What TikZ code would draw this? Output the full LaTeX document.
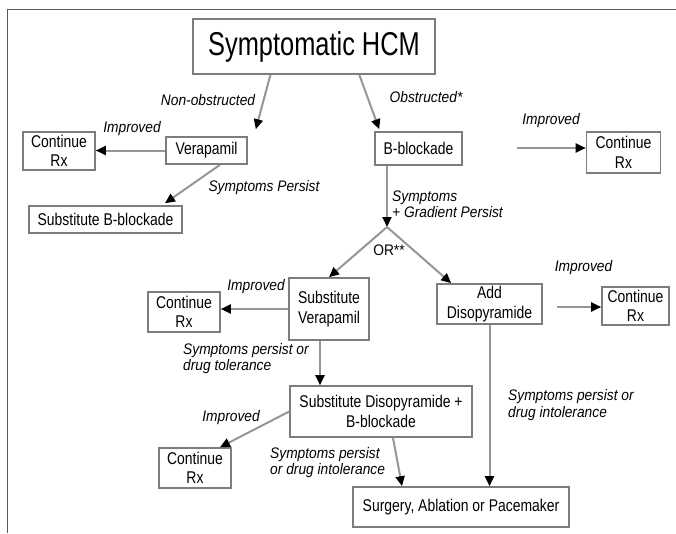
\documentclass[tikz,border=0pt]{standalone}
\usepackage{fontspec}
\setmainfont{Liberation Sans}
\newfontfamily\boxfont[FakeStretch=0.82]{Liberation Sans}
\newfontfamily\hcmfont[FakeStretch=0.77]{Liberation Sans}
\newfontfamily\labfont[FakeStretch=0.9]{Liberation Sans}
\usetikzlibrary{arrows.meta}
\definecolor{linegray}{RGB}{150,150,150}
\definecolor{boxgray}{RGB}{125,125,125}
\definecolor{framegray}{RGB}{90,90,90}
\begin{document}
\begin{tikzpicture}[x=1pt,y=-1pt,
  box/.style={draw=boxgray,line width=1.6pt,align=center,inner sep=0pt,
    font=\boxfont\fontsize{17}{19.5}\selectfont},
  lab/.style={font=\labfont\itshape\fontsize{15.3}{16.5}\selectfont,inner sep=0pt,align=left},
  uplab/.style={font=\labfont\fontsize{15.3}{16.5}\selectfont,inner sep=0pt},
  conn/.style={draw=linegray,line width=2pt,-{Triangle[black,length=10pt,width=9pt]}},
  plainline/.style={draw=linegray,line width=2pt}]
\useasboundingbox (0,0) rectangle (676,533);
\draw[framegray,line width=1pt] (7,533) -- (7,9) -- (676,9);

% boxes
\node[box,minimum width=242pt,minimum height=55pt,font=\hcmfont\fontsize{33}{36}\selectfont] (hcm) at (314,46.5) {Symptomatic HCM};
\node[box,minimum width=81pt,minimum height=27pt] (ver) at (206.5,150.5) {Verapamil};
\node[box,minimum width=72pt,minimum height=38pt] (ctl) at (59,151) {Continue\\Rx};
\node[box,minimum width=153pt,minimum height=27pt] (sbb) at (105.5,219.5) {Substitute B-blockade};
\node[box,minimum width=87pt,minimum height=33pt] (bb) at (418.5,148.5) {B-blockade};
\node[box,minimum width=74pt,minimum height=41pt] (ctr) at (623.5,152.5) {Continue\\Rx};
\node[box,minimum width=80pt,minimum height=62pt] (sv) at (329,309) {Substitute\\Verapamil};
\node[box,minimum width=72pt,minimum height=40pt] (cml) at (184,312) {Continue\\Rx};
\node[box,minimum width=105pt,minimum height=40pt] (ad) at (489.5,304) {Add\\Disopyramide};
\node[box,minimum width=67pt,minimum height=38pt] (cmr) at (635.5,306) {Continue\\Rx};
\node[box,minimum width=182pt,minimum height=51pt] (sd) at (381,411.5) {Substitute Disopyramide +\\B-blockade};
\node[box,minimum width=72pt,minimum height=40pt] (cbl) at (195,468) {Continue\\Rx};
\node[box,minimum width=216pt,minimum height=40pt] (sur) at (461,507) {Surgery, Ablation or Pacemaker};

% free points
\coordinate (J) at (387,227);
\coordinate (ctrin) at (517,148);
\coordinate (cmrin) at (557,307);

% connectors
\draw[conn] (hcm.213.8) -- ([shift={(8,-7)}]ver.north east);
\draw[conn] (hcm.-32) -- ([shift={(5,-2)}]bb.north west);
\draw[conn] (ver.west) -- (ver.west -| ctl.east);
\draw[conn] ([xshift=13.5]ver.south) -- ([shift={(59.5,-2)}]sbb.north);
\draw[conn] (ctrin) -- (ctrin -| ctr.west);
\draw[conn] (bb.south -| J) -- (J);
\draw[conn] (J) -- (sv.north);
\draw[conn] (J) -- ([xshift=15]ad.north west);
\draw[conn] (sv.west) -- (sv.west -| cml.east);
\draw[conn] (cmrin) -- (cmrin -| cmr.west);
\draw[conn] ([xshift=-9]sv.south) -- ([xshift=-9]sv.south |- sd.north);
\draw[conn] (sd.west) -- ([xshift=25]cbl.north);
\draw[conn] ([xshift=12]sd.south) -- ([xshift=-59]sur.north);
\draw[conn] (ad.south) -- (ad.south |- sur.north);

% labels
\node[lab] (l1) at (208,100) {Non-obstructed};
\node[lab] (l2) at (426,97) {Obstructed*};
\node[lab] (l3) at (132,129) {Improved};
\node[lab] (l4) at (551,121) {Improved};
\node[lab] (l5) at (264,188) {Symptoms Persist};
\node[lab,anchor=west] (l6) at (392,204) {Symptoms\\+ Gradient Persist};
\node[uplab] (l7) at (389,250) {OR**};
\node[lab] (l8) at (256,287) {Improved};
\node[lab] (l9) at (583.5,268) {Improved};
\node[lab,anchor=west] (l10) at (183,358.5) {Symptoms persist or\\drug tolerance};
\node[lab] (l11) at (231,418) {Improved};
\node[lab,anchor=west] (l12) at (270,462.5) {Symptoms persist\\or drug intolerance};
\node[lab,anchor=west] (l13) at (508,405) {Symptoms persist or\\drug intolerance};
\end{tikzpicture}
\end{document}
